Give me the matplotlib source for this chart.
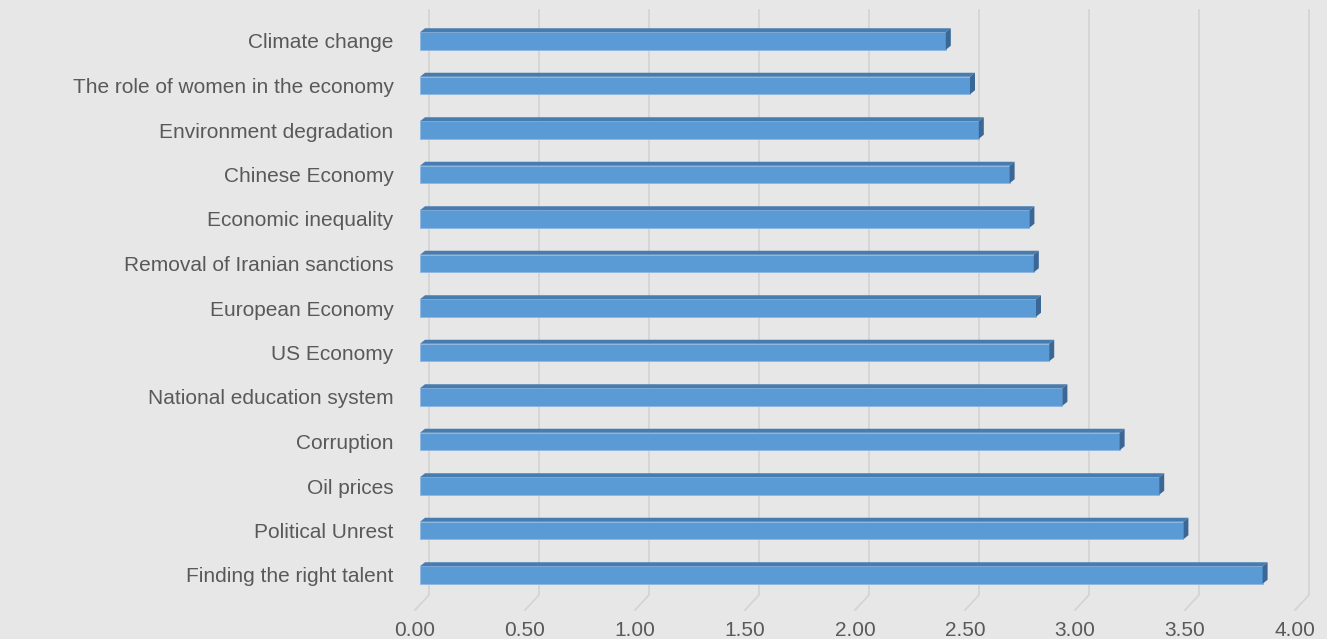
import matplotlib.pyplot as plt
from matplotlib.patches import Polygon
from matplotlib.transforms import ScaledTranslation

# -------- Data --------
topics = [
    "Finding the right talent",
    "Political Unrest",
    "Oil prices",
    "Corruption",
    "National education system",
    "US Economy",
    "European Economy",
    "Removal of Iranian sanctions",
    "Economic inequality",
    "Chinese Economy",
    "Environment degradation",
    "The role of women in the economy",
    "Climate change",
]
scores = [3.83, 3.47, 3.36, 3.18, 2.92, 2.86, 2.80, 2.79, 2.77, 2.68, 2.54, 2.50, 2.39]
x_ticks = [0.0, 0.5, 1.0, 1.5, 2.0, 2.5, 3.0, 3.5, 4.0]

# -------- Style --------
BG = "#e7e7e7"
BAR_FRONT = "#5b9bd5"
BAR_TOP = "#477cb0"
BAR_SIDE = "#3a6795"
GRID = "#d3d3d3"
TEXT = "#595959"
W, H = 1327, 639

plt.rcParams["font.family"] = ["Liberation Sans", "DejaVu Sans"]

fig = plt.figure(figsize=(W / 100, H / 100), dpi=100, facecolor=BG)
# axes in pixel terms: x 420..1300, y 10..610
ax = fig.add_axes([420 / W, (H - 610) / H, 880 / W, 600 / H])
ax.set_facecolor(BG)

px_x = 880 / 4.0          # pixels per data unit (x)
px_y = 44.5               # pixels per category (y)
ylo = -(610 - 575) / px_y
yhi = 12 + (41 - 10) / px_y
ax.set_xlim(0, 4.0)
ax.set_ylim(ylo, yhi)

# -------- 3D-ish gridlines (back wall + floor) --------
dxb = 9 / px_x
dxf = -5 / px_x
y_floor = -(595 - 575) / px_y
for t in x_ticks:
    ax.plot([t + dxb, t + dxb, t + dxf], [yhi, y_floor, ylo],
            color=GRID, lw=1.2, clip_on=False, zorder=1)

# -------- Bars --------
ypos = list(range(len(topics)))
bh = 17.5 / px_y
ddx = 5 / px_x
ddy = 4 / px_y
ax.barh(ypos, scores, height=bh, color=BAR_FRONT, edgecolor="#8db6e0",
        linewidth=0.6, zorder=3)
for y, v in zip(ypos, scores):
    top = Polygon([(0, y + bh / 2), (v, y + bh / 2), (v + ddx, y + bh / 2 + ddy),
                   (ddx, y + bh / 2 + ddy)], closed=True, facecolor=BAR_TOP,
                  edgecolor="none", zorder=3)
    side = Polygon([(v, y - bh / 2), (v, y + bh / 2), (v + ddx, y + bh / 2 + ddy),
                    (v + ddx, y - bh / 2 + ddy)], closed=True, facecolor=BAR_SIDE,
                   edgecolor="none", zorder=3)
    ax.add_patch(top)
    ax.add_patch(side)

# -------- Axes text --------
ax.set_yticks(ypos)
ax.set_yticklabels(topics, fontsize=15, color=TEXT)
ax.set_xticks(x_ticks)
ax.set_xticklabels([f"{t:.2f}" for t in x_ticks], fontsize=15, color=TEXT)
ax.tick_params(axis="y", length=0, pad=19)
ax.tick_params(axis="x", length=0, pad=8)
shift = ScaledTranslation(-5 / 100, 0, fig.dpi_scale_trans)
for lbl in ax.get_xticklabels():
    lbl.set_transform(lbl.get_transform() + shift)
for s in ax.spines.values():
    s.set_visible(False)

fig.savefig("out.png", dpi=100, facecolor=BG)
